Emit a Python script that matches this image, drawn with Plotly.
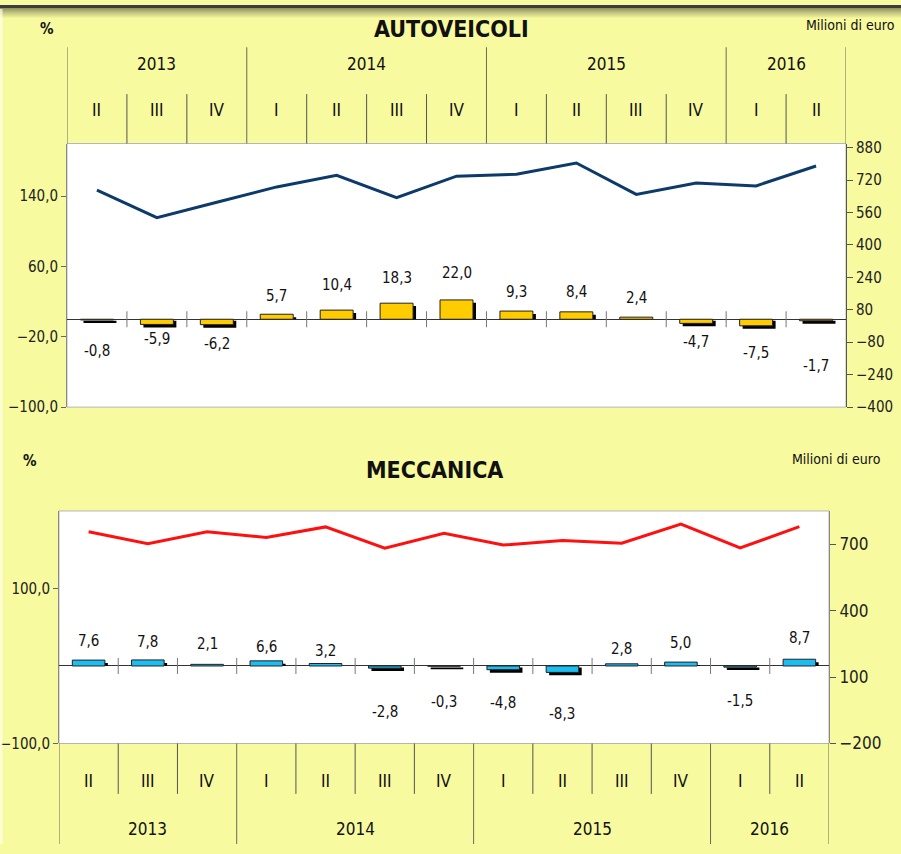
import plotly.graph_objects as go

# ---------------- data ----------------
quarters = ["II", "III", "IV", "I", "II", "III", "IV", "I", "II", "III", "IV", "I", "II"]
years = ["2013", "2014", "2015", "2016"]
year_quarters = [3, 4, 4, 2]

auto_pct = [-0.8, -5.9, -6.2, 5.7, 10.4, 18.3, 22.0, 9.3, 8.4, 2.4, -4.7, -7.5, -1.7]
auto_eur = [670, 534, 610, 686, 743, 633, 739, 748, 804, 649, 705, 691, 789]

mecc_pct = [7.6, 7.8, 2.1, 6.6, 3.2, -2.8, -0.3, -4.8, -8.3, 2.8, 5.0, -1.5, 8.7]
mecc_eur = [756, 702, 756, 730, 778, 682, 749, 696, 717, 704, 791, 683, 779]

# ---------------- style / layout ----------------
W, H = 901, 854
BG = "#F7FA9E"
FONT = "DejaVu Sans Condensed, Liberation Sans Narrow, Roboto, sans-serif"
YELLOW = "#FFCC00"
BLUE = "#1CBDF0"
NAVY = "#0B3A6B"
RED = "#FF1010"

# label distances from the bar end, in pixels (layout only)
auto_label_gap = [31, 15, 19, 18, 25, 25, 27, 19, 20, 19, 19, 27, 45]
mecc_label_gap = [19, 18, 20, 14, 13, 44, 36, 33, 42, 15, 19, 34, 21]

def px(xp):
    return xp / W

def py(yp):
    return 1 - yp / H

# plot areas in pixels
TOP = dict(x0=67, x1=846, y0=141, y1=409.3)
BOT = dict(x0=59, x1=829, y0=515, y1=751.7)

xs = list(range(len(quarters)))
BAR_W = 0.55
SHADOW_DX = 0.05

fig = go.Figure()

def add_block(xa, ya, ya2, pct, eur, color, line_color, yrange, plot_h, shadow_px):
    d = shadow_px * (yrange[1] - yrange[0]) / plot_h
    sh_base = [-0.5 * d if v < 0 else 0 for v in pct]
    sh_y = [v - 0.5 * d if v < 0 else max(v - d, 0.0) for v in pct]
    fig.add_trace(go.Bar(
        x=xs, y=sh_y, base=sh_base, width=BAR_W, offset=-BAR_W / 2 + SHADOW_DX,
        marker=dict(color="black", line=dict(width=0)),
        xaxis=xa, yaxis=ya, showlegend=False, hoverinfo="skip"))
    fig.add_trace(go.Bar(
        x=xs, y=pct, width=BAR_W, offset=-BAR_W / 2,
        marker=dict(color=color, line=dict(color="#222", width=1)),
        xaxis=xa, yaxis=ya, showlegend=False))
    fig.add_trace(go.Scatter(
        x=xs, y=eur, mode="lines", line=dict(color=line_color, width=3),
        xaxis=xa, yaxis=ya2, showlegend=False))

add_block("x", "y", "y2", auto_pct, auto_eur, YELLOW, NAVY, [-100, 200],
          TOP["y1"] - TOP["y0"], 3)
add_block("x2", "y3", "y4", mecc_pct, mecc_eur, BLUE, RED, [-100, 200],
          BOT["y1"] - BOT["y0"], 3)

annotations = []
shapes = []

def fmt(v):
    return f"{v:.1f}".replace(".", ",")

def value_labels(xref, yref, pct, gaps):
    for i, v in enumerate(pct):
        s = gaps[i] if v >= 0 else -gaps[i]
        annotations.append(dict(
            x=i, y=v, xref=xref, yref=yref, text=fmt(v), showarrow=False,
            yshift=s, font=dict(family=FONT, size=15, color="#111"),
            xanchor="center", yanchor="middle"))

value_labels("x", "y", auto_pct, auto_label_gap)
value_labels("x2", "y3", mecc_pct, mecc_label_gap)

year_bounds = [0]
for n in year_quarters:
    year_bounds.append(year_bounds[-1] + n)

def header(xref, q_y0, q_y1, y_y0, y_y1, q_label_y, yr_label_y):
    for b in range(len(quarters) + 1):
        is_year = b in year_bounds
        y0, y1 = (y_y0, y_y1) if is_year else (q_y0, q_y1)
        shapes.append(dict(type="line", xref=xref, yref="paper",
                           x0=b - 0.5, x1=b - 0.5, y0=py(y0), y1=py(y1),
                           line=dict(color="#6b6b5a" if is_year else "#555", width=1)))
    for i, q in enumerate(quarters):
        annotations.append(dict(x=i, y=py(q_label_y), xref=xref, yref="paper",
                                text=q, showarrow=False,
                                font=dict(family=FONT, size=17, color="#111"),
                                yanchor="middle"))
    for k, yr in enumerate(years):
        c = (year_bounds[k] + year_bounds[k + 1] - 1) / 2
        annotations.append(dict(x=c, y=py(yr_label_y), xref=xref, yref="paper",
                                text=yr, showarrow=False,
                                font=dict(family=FONT, size=17, color="#111"),
                                yanchor="middle"))

header("x", 90.7, TOP["y0"], 43, TOP["y0"], 107, 60)
header("x2", BOT["y1"], 803, BOT["y1"], 854, 790, 839)

for xref, yref in (("x", "y"), ("x2", "y3")):
    for b in range(1, len(quarters)):
        shapes.append(dict(type="line", xref=xref, yref=yref, ysizemode="pixel",
                           yanchor=0, x0=b - 0.5, x1=b - 0.5, y0=-8, y1=8,
                           line=dict(color="#777", width=1)))

for P in (TOP, BOT):
    shapes.append(dict(type="rect", xref="paper", yref="paper",
                       x0=px(P["x0"]), x1=px(P["x1"]), y0=py(P["y1"]), y1=py(P["y0"]),
                       line=dict(color="#b5b5b5", width=1), layer="below"))

# top shadow band of the frame
shapes.append(dict(type="rect", xref="paper", yref="paper", x0=0, x1=1,
                   y0=py(3), y1=1, fillcolor="#3c3c3c", line=dict(width=0)))
for k in range(10):
    shapes.append(dict(type="rect", xref="paper", yref="paper", x0=0, x1=1,
                       y0=py(4 + k), y1=py(3 + k),
                       fillcolor=f"rgba(70,70,50,{0.55 * (1 - k / 10):.3f})",
                       line=dict(width=0)))
shapes.append(dict(type="rect", xref="paper", yref="paper", x0=0, x1=px(2.5),
                   y0=0, y1=py(4), fillcolor="rgba(255,255,240,0.7)", line=dict(width=0)))

def text(x, y, t, size, bold=False, anchor="center"):
    annotations.append(dict(x=px(x), y=py(y), xref="paper", yref="paper",
                            text=f"<b>{t}</b>" if bold else t, showarrow=False,
                            xanchor=anchor, yanchor="middle",
                            font=dict(family=FONT, size=size, color="#111")))

text(451, 24, "AUTOVEICOLI", 23, bold=True)
text(47, 24, "%", 15, bold=True)
text(850, 20, "Milioni di euro", 14)
text(434, 473, "MECCANICA", 23, bold=True)
text(30, 464, "%", 15, bold=True)
text(836, 462, "Milioni di euro", 14)

tickfont = dict(family=FONT, size=15, color="#222")

fig.update_layout(
    width=W, height=H, autosize=False,
    margin=dict(l=0, r=0, t=0, b=0),
    paper_bgcolor=BG, plot_bgcolor="white",
    barmode="overlay", separators=",.",
    showlegend=False,
    annotations=annotations, shapes=shapes,
    xaxis=dict(domain=[px(TOP["x0"]), px(TOP["x1"])], range=[-0.5, 12.5],
               anchor="y", showticklabels=False, showgrid=False, zeroline=False,
               ticks=""),
    yaxis=dict(domain=[py(TOP["y1"]), py(TOP["y0"])], range=[-100, 200],
               anchor="x", tick0=-100, dtick=80, tickformat=".1f",
               ticks="outside", ticklen=5, tickcolor="#666",
               showline=True, linecolor="#8a8a8a", linewidth=1,
               showgrid=False, zeroline=True, zerolinecolor="#333",
               zerolinewidth=1, tickfont=tickfont),
    yaxis2=dict(overlaying="y", side="right", anchor="x", range=[-400, 900],
                tick0=-400, dtick=160, ticks="outside", ticklen=6,
                tickcolor="#555", showline=True, linecolor="#555",
                linewidth=1, showgrid=False, zeroline=False, tickfont=tickfont),
    xaxis2=dict(domain=[px(BOT["x0"]), px(BOT["x1"])], range=[-0.5, 12.5],
                anchor="y3", showticklabels=False, showgrid=False,
                zeroline=False, ticks=""),
    yaxis3=dict(domain=[py(BOT["y1"]), py(BOT["y0"])], range=[-100, 200],
                anchor="x2", tick0=-100, dtick=200, tickformat=".1f",
                ticks="outside", ticklen=5, tickcolor="#666",
                showline=True, linecolor="#8a8a8a", linewidth=1,
                showgrid=False, zeroline=True, zerolinecolor="#333",
                zerolinewidth=1, tickfont=tickfont),
    yaxis4=dict(overlaying="y3", side="right", anchor="x2", range=[-200, 850],
                tick0=-200, dtick=300, ticks="outside", ticklen=6,
                tickcolor="#555", showline=True, linecolor="#888",
                linewidth=1, showgrid=False, zeroline=False,
                tickfont=dict(family=FONT, size=17, color="#222")),
)

fig.write_html(
    "out.html",
    config={"displayModeBar": False, "responsive": False, "staticPlot": True},
    post_script=(
        "document.body.style.margin='0px';"
        "document.body.style.overflow='hidden';"
    ),
)
